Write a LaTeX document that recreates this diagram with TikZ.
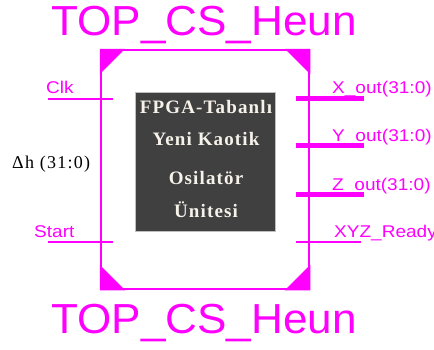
\documentclass[tikz,border=0pt]{standalone}
\usepackage{fontspec}
\setmainfont{Liberation Serif}
\newfontfamily\titlefont[FakeStretch=1.05]{Liberation Sans}
\newfontfamily\pinfont[FakeStretch=1.12]{Liberation Sans}
\newfontfamily\corefont[LetterSpace=6]{Liberation Serif}
\newfontfamily\dhfont[LetterSpace=7]{Liberation Serif}
\definecolor{mag}{HTML}{FF00FF}
\definecolor{coregray}{HTML}{404040}
\definecolor{corefg}{HTML}{F6F2EA}
\tikzset{
  titletext/.style={text=mag, font=\titlefont\fontsize{42}{42}\selectfont, inner sep=0pt, anchor=base},
  pintext/.style={text=mag, font=\pinfont\fontsize{17}{17}\selectfont, inner sep=0pt, anchor=base west},
  coretext/.style={text=corefg, font=\corefont\bfseries\fontsize{19}{19}\selectfont, inner sep=0pt, anchor=base},
  thinpin/.style={draw=mag, line width=1.7pt},
  buspin/.style={draw=mag, line width=5pt},
  corner/.style={fill=mag, draw=mag, line width=0.8pt},
}
\begin{document}
\begin{tikzpicture}[x=1pt,y=-1pt]
\useasboundingbox (0,0) rectangle (434,349);
% titles
\node[titletext] (ttop) at (204,35) {TOP\_CS\_Heun};
\node[titletext] (tbot) at (204,333) {TOP\_CS\_Heun};
% block
\node[draw=mag, line width=1.7pt, minimum width=208pt, minimum height=239pt, inner sep=0pt] (blk) at (205,169.5) {};
\fill[corner] (blk.north west) -- ++(24,0) -- ++(-24,24) -- cycle;
\fill[corner] (blk.north east) -- ++(-24,0) -- ++(24,24) -- cycle;
\fill[corner] (blk.south west) -- ++(24,0) -- ++(-24,-24) -- cycle;
\fill[corner] (blk.south east) -- ++(-24,0) -- ++(24,-24) -- cycle;
% core
\node[fill=coregray, draw=gray!50, line width=0.8pt, minimum width=140pt, minimum height=139pt, inner sep=0pt] (core) at (205,161.5) {};
\node[coretext] (c1) at (206,113) {FPGA-Tabanlı};
\node[coretext] (c2) at (206,145) {Yeni Kaotik};
\node[coretext] (c3) at (206,184) {Osilatör};
\node[coretext] (c4) at (206,217) {Ünitesi};
% left pins
\coordinate (clkA) at (48,99);
\coordinate (clkB) at (113,99);
\coordinate (stA) at (48,242);
\coordinate (stB) at (113,242);
\draw[thinpin] (clkA) -- (clkB);
\draw[thinpin] (stA) -- (stB);
\node[pintext] (lclk) at (46,93) {Clk};
\node[pintext] (lst) at (34,237) {Start};
\node[inner sep=0pt, anchor=base west, font=\dhfont\fontsize{18}{18}\selectfont] (ldh) at (12,168) {Δh (31:0)};
% right pins
\coordinate (xA) at (296,98.3);
\coordinate (xB) at (364,98.3);
\coordinate (yA) at (296,145.7);
\coordinate (yB) at (364,145.7);
\coordinate (zA) at (296,194);
\coordinate (zB) at (364,194);
\coordinate (rA) at (296,242);
\coordinate (rB) at (361,242);
\draw[buspin] (xA) -- (xB);
\draw[buspin] (yA) -- (yB);
\draw[buspin] (zA) -- (zB);
\draw[thinpin] (rA) -- (rB);
\node[pintext] (lx) at (332,93) {X\_out(31:0)};
\node[pintext] (ly) at (332,141.7) {Y\_out(31:0)};
\node[pintext] (lz) at (332,190) {Z\_out(31:0)};
\node[pintext] (lr) at (334,237.3) {XYZ\_Ready};
\end{tikzpicture}
\end{document}
